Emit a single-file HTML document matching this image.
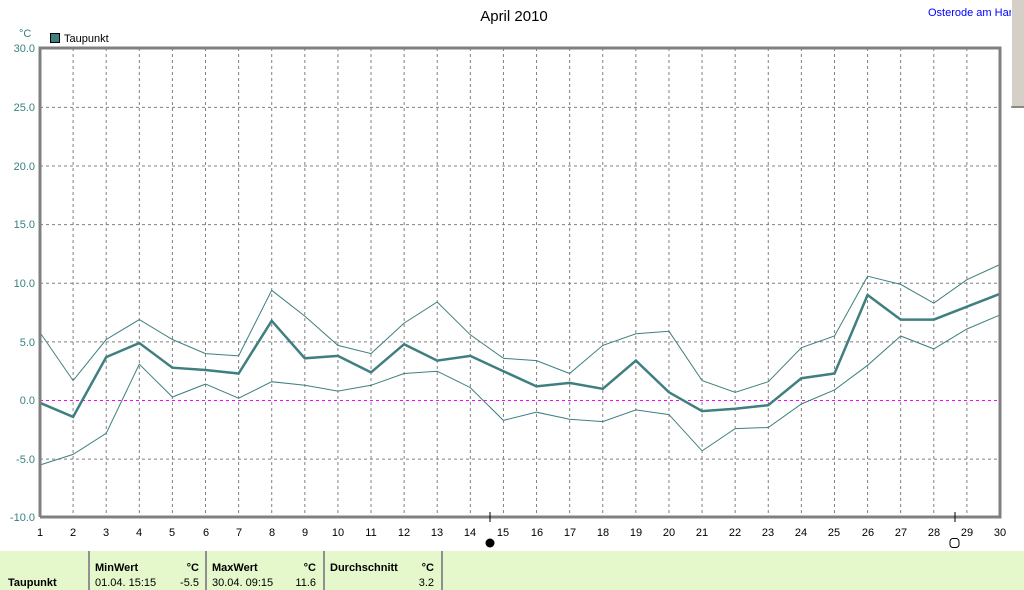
<!DOCTYPE html>
<html><head><meta charset="utf-8"><style>
body{margin:0;width:1024px;height:590px;overflow:hidden;background:#fff;font-family:"Liberation Sans",sans-serif}
svg{position:absolute;left:0;top:0}
</style></head><body>
<svg width="1024" height="590" xmlns="http://www.w3.org/2000/svg" font-family="Liberation Sans, sans-serif">
<text x="514" y="21" font-size="15" text-anchor="middle" fill="#000">April 2010</text>
<text x="928" y="16" font-size="11" fill="#0000ff">Osterode am Harz</text>
<rect x="1011" y="0" width="13" height="108" fill="#d4d0c8"/>
<line x1="1011.5" y1="0" x2="1011.5" y2="108" stroke="#fff"/>
<line x1="1011" y1="107" x2="1024" y2="107" stroke="#404040"/>
<text x="19" y="37" font-size="11" fill="#3a8080">°C</text>
<rect x="50.5" y="33.5" width="9" height="9" fill="#3f7f7f" stroke="#000"/>
<text x="64" y="42" font-size="11">Taupunkt</text>
<g id="grid" stroke="#808080" stroke-dasharray="3,3" stroke-width="1"></g>
<g font-size="11" fill="#3a8080" text-anchor="end">
<text x="35" y="52">30.0</text><text x="35" y="111">25.0</text><text x="35" y="170">20.0</text><text x="35" y="228">15.0</text><text x="35" y="287">10.0</text><text x="35" y="346">5.0</text><text x="35" y="404">0.0</text><text x="35" y="463">-5.0</text><text x="35" y="521">-10.0</text>
</g>
<g font-size="11" fill="#000" text-anchor="middle">
<text x="40" y="536">1</text><text x="73" y="536">2</text><text x="106" y="536">3</text><text x="139" y="536">4</text><text x="172" y="536">5</text><text x="206" y="536">6</text><text x="239" y="536">7</text><text x="272" y="536">8</text><text x="305" y="536">9</text><text x="338" y="536">10</text><text x="371" y="536">11</text><text x="404" y="536">12</text><text x="437" y="536">13</text><text x="470" y="536">14</text><text x="503" y="536">15</text><text x="537" y="536">16</text><text x="570" y="536">17</text><text x="603" y="536">18</text><text x="636" y="536">19</text><text x="669" y="536">20</text><text x="702" y="536">21</text><text x="735" y="536">22</text><text x="768" y="536">23</text><text x="801" y="536">24</text><text x="834" y="536">25</text><text x="868" y="536">26</text><text x="901" y="536">27</text><text x="934" y="536">28</text><text x="967" y="536">29</text><text x="1000" y="536">30</text>
</g>
<line x1="40" y1="400.5" x2="1000" y2="400.5" stroke="#ff00ff" stroke-dasharray="3,3"/>
<polyline id="up" fill="none" stroke="#3f7f7f" stroke-width="1"/>
<polyline id="lo" fill="none" stroke="#3f7f7f" stroke-width="1"/>
<polyline id="mn" fill="none" stroke="#3f7f7f" stroke-width="2.5"/>
<path d="M40 517V48H1000V517H40" fill="none" stroke="#808080" stroke-width="3"/>
<line x1="490" y1="512" x2="490" y2="522" stroke="#000"/>
<circle cx="490" cy="543" r="4.5" fill="#000"/>
<line x1="955" y1="512" x2="955" y2="522" stroke="#000"/>
<rect x="950" y="538.5" width="9" height="9" rx="3" fill="#fff" stroke="#000"/>
<rect x="0" y="551" width="1024" height="39" fill="#e4f8cc"/>
<g stroke="#909090" stroke-width="2"><line x1="89" y1="551" x2="89" y2="590"/><line x1="206" y1="551" x2="206" y2="590"/><line x1="324" y1="551" x2="324" y2="590"/><line x1="442" y1="551" x2="442" y2="590"/></g>
<g font-size="11" fill="#000">
<text x="8" y="586" font-weight="bold">Taupunkt</text>
<text x="95" y="571" font-weight="bold">MinWert</text><text x="199" y="571" text-anchor="end" font-weight="bold">°C</text>
<text x="95" y="586">01.04.  15:15</text><text x="199" y="586" text-anchor="end">-5.5</text>
<text x="212" y="571" font-weight="bold">MaxWert</text><text x="316" y="571" text-anchor="end" font-weight="bold">°C</text>
<text x="212" y="586">30.04.  09:15</text><text x="316" y="586" text-anchor="end">11.6</text>
<text x="330" y="571" font-weight="bold">Durchschnitt</text><text x="434" y="571" text-anchor="end" font-weight="bold">°C</text>
<text x="434" y="586" text-anchor="end">3.2</text>
</g>
</svg>
<script>
var X=function(d){return 40+(d-1)*33.103},Y=function(v){return 400.5-v*11.725};
var g=document.getElementById('grid'),s='';
for(var d=2;d<=29;d++)s+='<line x1="'+X(d)+'" y1="48" x2="'+X(d)+'" y2="517"/>';
for(var v=-5;v<=25;v+=5)s+='<line x1="40" y1="'+Y(v)+'" x2="1000" y2="'+Y(v)+'"/>';
g.innerHTML=s;
var mn=[-0.2,-1.4,3.7,4.9,2.8,2.6,2.3,6.8,3.6,3.8,2.4,4.8,3.4,3.8,2.5,1.2,1.5,1.0,3.4,0.7,-0.9,-0.7,-0.4,1.9,2.3,9.0,6.9,6.9,8.0,9.1];
var up=[5.8,1.7,5.2,6.9,5.2,4.0,3.8,9.4,7.2,4.7,4.0,6.6,8.4,5.6,3.6,3.4,2.3,4.7,5.7,5.9,1.7,0.7,1.6,4.5,5.5,10.6,9.9,8.3,10.3,11.6];
var lo=[-5.5,-4.6,-2.8,3.1,0.3,1.4,0.2,1.6,1.3,0.8,1.3,2.3,2.5,1.1,-1.7,-1.0,-1.6,-1.8,-0.8,-1.2,-4.3,-2.4,-2.3,-0.3,0.9,3.0,5.5,4.4,6.1,7.3];
function p(a){return a.map(function(v,i){return X(i+1).toFixed(1)+','+Y(v).toFixed(1)}).join(' ')}
document.getElementById('mn').setAttribute('points',p(mn));
document.getElementById('up').setAttribute('points',p(up));
document.getElementById('lo').setAttribute('points',p(lo));
</script>
</body></html>
